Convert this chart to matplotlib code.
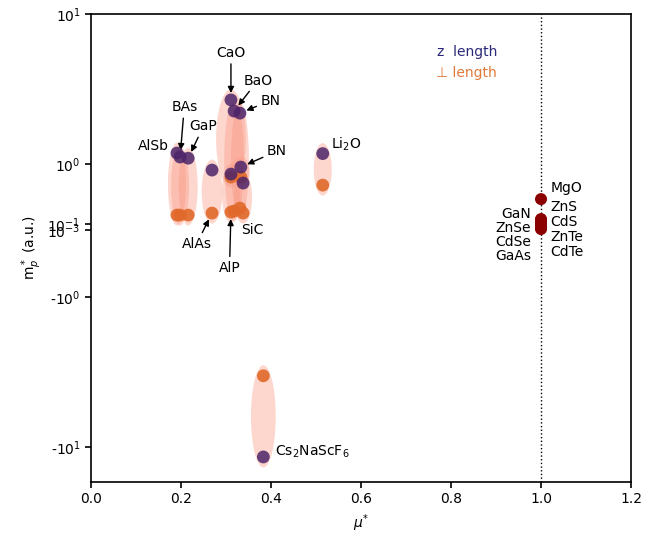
import matplotlib
matplotlib.use("Agg")
import matplotlib.pyplot as plt
from matplotlib.patches import Ellipse
from matplotlib.ticker import NullLocator

# anisotropic materials: mu*, m_p* along z and perpendicular
names = ["AlSb", "BAs", "GaP", "AlAs", "CaO", "BaO", "BN", "BN_2", "AlP", "SiC", "Li2O", "Cs2NaScF6"]
mu = [0.191, 0.198, 0.216, 0.269, 0.311, 0.318, 0.331, 0.333, 0.311, 0.338, 0.515, 0.383]
m_z = [1.18, 1.11, 1.09, 0.906, 2.67, 2.25, 2.18, 0.951, 0.846, 0.711, 1.17, -11.7]
m_perp = [0.23, 0.23, 0.23, 0.26, 0.80, 0.29, 0.335, 0.80, 0.275, 0.26, 0.68, -3.36]
mu_spread = [0.040, 0.040, 0.042, 0.046, 0.066, 0.044, 0.040, 0.040, 0.040, 0.040, 0.040, 0.055]

# isotropic materials (mu* = 1)
iso_names = ["MgO", "GaN", "ZnS", "ZnSe", "CdS", "CdSe", "ZnTe", "GaAs", "CdTe"]
iso_mu = [1.0] * 9
iso_m = [0.47, 0.17, 0.15, 0.12, 0.10, 0.08, 0.06, 0.04, 0.02]

PURPLE = "#4c2469"
ORANGE = "#e0692a"

fig = plt.figure(figsize=(6.48, 5.4), dpi=100)
ax = fig.add_axes([0.1404, 0.1074, 0.8334, 0.8666])
ax.set_yscale("symlog", linthresh=1, linscale=0.4)
ax.set_xlim(0, 1.2)
ax.set_ylim(-17.2, 10)

# ellipses drawn in scaled coordinates so they look elliptical on screen
ytr = ax.yaxis.get_transform()
scaled = ax.transLimits + ax.transAxes
for x, a, b, w in zip(mu, m_z, m_perp, mu_spread):
    ta = ytr.transform([a])[0]
    tb = ytr.transform([b])[0]
    h = abs(ta - tb) + 0.14
    ax.add_patch(Ellipse((x, (ta + tb) / 2), w, h, transform=scaled,
                         facecolor="#fa9a85", alpha=0.4, edgecolor="none", zorder=1))

ax.scatter(mu, m_perp, s=85, color=ORANGE, alpha=0.9, edgecolors="none", zorder=3)
ax.scatter(mu, m_z, s=85, color=PURPLE, alpha=0.85, edgecolors="none", zorder=4)
ax.scatter(iso_mu, iso_m, s=75, color="#8b0000", edgecolors="none", zorder=4)

ax.axvline(1.0, color="black", ls=":", lw=1, zorder=0)

arrow = dict(arrowstyle="-|>", color="black", lw=1, mutation_scale=9, shrinkA=1, shrinkB=5)
fs = 10
i = names.index


def label(text, idx, vals, off, ha="center", arrows=True):
    ax.annotate(text, (mu[idx], vals[idx]), xytext=off, textcoords="offset points",
                ha=ha, va="center", fontsize=fs, arrowprops=arrow if arrows else None)


label("CaO", i("CaO"), m_z, (0, 34))
label("BaO", i("BaO"), m_z, (17, 22))
label("BN", i("BN"), m_z, (22, 9))
label("BN", i("BN_2"), m_z, (26, 11.5))
label("GaP", i("GaP"), m_z, (11, 23))
label("BAs", i("BAs"), m_z, (3, 36))
label("AlSb", i("AlSb"), m_z, (-17, 5), arrows=False)
label("AlAs", i("AlAs"), m_perp, (-11, -22))
label("AlP", i("AlP"), m_perp, (-1, -40))
label("SiC", i("SiC"), m_perp, (6.5, -12), arrows=False)
label("Li$_2$O", i("Li2O"), m_z, (6, 6.5), ha="left", arrows=False)
label("Cs$_2$NaScF$_6$", i("Cs2NaScF6"), m_z, (8.5, 3.6), ha="left", arrows=False)

# labels beside the mu*=1 line
right_lab = [("MgO", 0.628), ("ZnS", 0.5876), ("CdS", 0.5556), ("ZnTe", 0.5235), ("CdTe", 0.4915)]
left_lab = [("GaN", 0.5726), ("ZnSe", 0.5427), ("CdSe", 0.5128), ("GaAs", 0.4829)]
for t, yf in right_lab:
    ax.annotate(t, (1.0, yf), xycoords=("data", "axes fraction"), xytext=(7, 0),
                textcoords="offset points", ha="left", va="center", fontsize=fs)
for t, yf in left_lab:
    ax.annotate(t, (1.0, yf), xycoords=("data", "axes fraction"), xytext=(-7, 0),
                textcoords="offset points", ha="right", va="center", fontsize=fs)

ax.text(0.752, 0.919, "z  length", transform=ax.transAxes, ha="right", va="center",
        fontsize=fs, color="#2a2a78")
ax.text(0.752, 0.874, "\u22a5 length", transform=ax.transAxes, ha="right", va="center",
        fontsize=fs, color="#e07a3a")

ax.set_yticks([10, 1, 0.1, 0.001, -1, -10])
ax.set_yticklabels(["$10^{1}$", "$10^{0}$", "$10^{-1}$", "$10^{-3}$", "-$10^{0}$", "-$10^{1}$"])
ax.yaxis.set_minor_locator(NullLocator())
ax.set_xticks([0.0, 0.2, 0.4, 0.6, 0.8, 1.0, 1.2])
ax.set_xticklabels(["0.0", "0.2", "0.4", "0.6", "0.8", "1.0", "1.2"])
ax.tick_params(labelsize=fs, width=1.2, length=4)
for s in ax.spines.values():
    s.set_linewidth(1.2)
ax.set_xlabel(r"$\mu^{*}$", fontsize=fs)
ax.set_ylabel(r"m$_p^*$ (a.u.)", fontsize=fs, labelpad=2)

fig.savefig("out.png", dpi=100)
